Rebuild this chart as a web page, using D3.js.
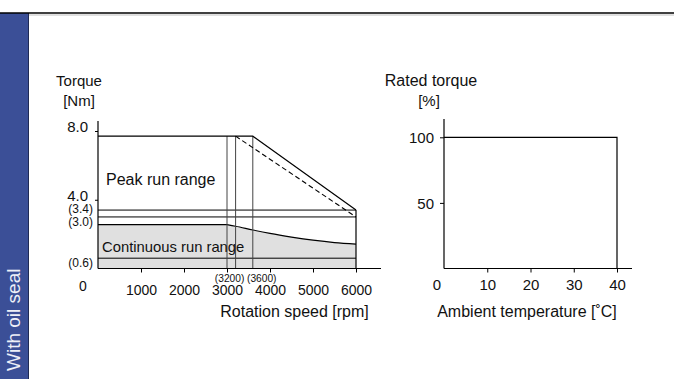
<!DOCTYPE html>
<html>
<head>
<meta charset="utf-8">
<script src="https://cdn.jsdelivr.net/npm/d3@7"></script>
<style>
  body { margin: 0; background: #fff; }
  svg { display: block; font-family: "Liberation Sans", Arial, sans-serif; }
</style>
</head>
<body>
<div id="chart"></div>
<script>
// speed / torque chart
const speedTicks = [1000, 2000, 3000, 4000, 5000, 6000];
const torqueTicks = [4.0, 8.0];
const peakTorque = 7.7;
const peakSolid = [[0, 7.7], [3600, 7.7], [6000, 3.4]];
const peakDashed = [[3200, 7.7], [6000, 3.0]];
const levelLines = [3.4, 3.0, 0.6];
const levelLabels = ['(3.4)', '(3.0)', '(0.6)'];
const speedMarks = [3000, 3200, 3600];
const speedMarkLabels = ['(3200)', '(3600)'];
const continuous = [[0, 2.55], [3000, 2.55], [3200, 2.46], [3600, 2.24], [4000, 2.04],
  [4500, 1.83], [5000, 1.65], [5500, 1.51], [6000, 1.42]];

// temperature chart
const tempTicks = [10, 20, 30, 40];
const ratedTicks = [50, 100];
const ratedLine = [[0, 100], [40, 100], [40, 0]];

const W = 674, H = 379;
const svg = d3.select('#chart').append('svg').attr('width', W).attr('height', H);

// side band + top rule
svg.append('rect').attr('x', 0).attr('y', 13).attr('width', 28).attr('height', H - 13).attr('fill', '#3b4f97');
svg.append('line').attr('x1', 28.5).attr('x2', 28.5).attr('y1', 13).attr('y2', H).attr('stroke', '#1f2a55').attr('stroke-width', 1);
svg.append('line').attr('x1', 0).attr('x2', W).attr('y1', 13).attr('y2', 13).attr('stroke', '#000').attr('stroke-width', 1.5);
svg.append('line').attr('x1', 29).attr('x2', W).attr('y1', 15).attr('y2', 15).attr('stroke', '#d4d4d4').attr('stroke-width', 1.5);
svg.append('text').attr('transform', 'translate(20,371) rotate(-90)')
  .attr('fill', '#eef0f7').style('font-size', '19px').text('With oil seal');

// ---- left chart
const x = d3.scaleLinear().domain([0, 6000]).range([98, 356]);
const y = d3.scaleLinear().domain([0, 8]).range([268.5, 131]);
const left = svg.append('g');

const area = d3.area().x(d => x(d[0])).y0(y(0)).y1(d => y(d[1])).curve(d3.curveMonotoneX);
const line = d3.line().x(d => x(d[0])).y(d => y(d[1]));

left.append('path').datum(continuous).attr('d', area).attr('fill', '#e0e0e0');
left.append('path').datum(continuous.slice(1)).attr('d', line.curve(d3.curveMonotoneX))
  .attr('fill', 'none').attr('stroke', '#000').attr('stroke-width', 1.2);
line.curve(d3.curveLinear);

left.selectAll('.lvl').data(levelLines).enter().append('line')
  .attr('x1', x(0)).attr('x2', x(6000))
  .attr('y1', d => y(d)).attr('y2', d => y(d))
  .attr('stroke', '#000').attr('stroke-width', 1);
// top of continuous range, flat part
left.append('line').attr('x1', x(0)).attr('x2', x(3000))
  .attr('y1', y(continuous[0][1])).attr('y2', y(continuous[0][1]))
  .attr('stroke', '#000').attr('stroke-width', 1.2);

left.selectAll('.vm').data(speedMarks).enter().append('line')
  .attr('x1', d => x(d)).attr('x2', d => x(d))
  .attr('y1', y(peakTorque)).attr('y2', y(0))
  .attr('stroke', '#444').attr('stroke-width', 1);
left.append('line').attr('x1', x(6000)).attr('x2', x(6000))
  .attr('y1', y(3.4)).attr('y2', y(0)).attr('stroke', '#000').attr('stroke-width', 1.2);

left.append('path').datum(peakSolid).attr('d', line)
  .attr('fill', 'none').attr('stroke', '#000').attr('stroke-width', 1.2);
left.append('path').datum(peakDashed).attr('d', line)
  .attr('fill', 'none').attr('stroke', '#000').attr('stroke-width', 1.1).attr('stroke-dasharray', '5,3');

// axes
left.append('line').attr('x1', x(0)).attr('x2', 381).attr('y1', y(0)).attr('y2', y(0)).attr('stroke', '#000').attr('stroke-width', 1.2);
left.append('line').attr('x1', x(0)).attr('x2', x(0)).attr('y1', 121).attr('y2', y(0)).attr('stroke', '#000').attr('stroke-width', 1.2);

const xAxis = d3.axisBottom(x).tickValues(speedTicks).tickSize(4).tickPadding(13).tickFormat(d3.format('d'));
left.append('g').attr('transform', 'translate(0,' + y(0) + ')').call(xAxis)
  .call(g => g.select('.domain').remove())
  .selectAll('text').style('font-size', '14px').attr('fill', '#111');

const yAxis = d3.axisLeft(y).tickValues(torqueTicks).tickSize(3).tickPadding(7).tickFormat(d3.format('.1f'));
left.append('g').attr('transform', 'translate(' + x(0) + ',0)').call(yAxis)
  .call(g => g.select('.domain').remove())
  .selectAll('text').style('font-size', '15px').attr('dy', '0.02em').attr('fill', '#111');

const lvlOffset = [-1.5, 4.5, 4.5];
left.selectAll('.lvlLab').data(levelLines).enter().append('text')
  .attr('x', 93).attr('y', (d, i) => y(d) + lvlOffset[i]).attr('dy', '0.35em')
  .attr('text-anchor', 'end').style('font-size', '12px').attr('fill', '#111')
  .text((d, i) => levelLabels[i]);

left.selectAll('.vmLab').data(speedMarkLabels).enter().append('text')
  .attr('x', (d, i) => x(speedMarks[i + 1]) + (i === 0 ? -6 : 9)).attr('y', 281.5)
  .attr('text-anchor', 'middle').style('font-size', '10.2px').attr('fill', '#111').text(d => d);

left.append('text').attr('x', 83).attr('y', 291).attr('text-anchor', 'middle')
  .style('font-size', '14px').attr('fill', '#111').text('0');
left.append('text').attr('x', 79).attr('y', 86).attr('text-anchor', 'middle')
  .style('font-size', '15px').attr('fill', '#111').text('Torque');
left.append('text').attr('x', 79).attr('y', 106).attr('text-anchor', 'middle')
  .style('font-size', '15px').attr('fill', '#111').text('[Nm]');
left.append('text').attr('x', 106).attr('y', 185)
  .style('font-size', '16px').attr('fill', '#111').text('Peak run range');
left.append('text').attr('x', 102).attr('y', 252)
  .style('font-size', '14.8px').attr('fill', '#111').text('Continuous run range');
left.append('text').attr('x', 294.5).attr('y', 317).attr('text-anchor', 'middle')
  .style('font-size', '16px').attr('fill', '#111').text('Rotation speed [rpm]');

// ---- right chart
const x2 = d3.scaleLinear().domain([0, 40]).range([444, 617]);
const y2 = d3.scaleLinear().domain([0, 100]).range([268.5, 137.3]);
const right = svg.append('g');

right.append('path').datum(ratedLine)
  .attr('d', d3.line().x(d => x2(d[0])).y(d => y2(d[1])))
  .attr('fill', 'none').attr('stroke', '#000').attr('stroke-width', 1.2);

right.append('line').attr('x1', x2(0)).attr('x2', 632).attr('y1', y2(0)).attr('y2', y2(0)).attr('stroke', '#000').attr('stroke-width', 1.2);
right.append('line').attr('x1', x2(0)).attr('x2', x2(0)).attr('y1', 119).attr('y2', y2(0)).attr('stroke', '#000').attr('stroke-width', 1.2);

right.append('g').attr('transform', 'translate(0,' + y2(0) + ')')
  .call(d3.axisBottom(x2).tickValues(tempTicks).tickSize(4).tickPadding(7))
  .call(g => g.select('.domain').remove())
  .selectAll('text').style('font-size', '15px').attr('fill', '#111');

right.append('g').attr('transform', 'translate(' + x2(0) + ',0)')
  .call(d3.axisLeft(y2).tickValues(ratedTicks).tickSize(4).tickPadding(6))
  .call(g => g.select('.domain').remove())
  .selectAll('text').style('font-size', '15px').attr('dy', '0.35em').attr('fill', '#111');

right.append('text').attr('x', 437).attr('y', 290).attr('text-anchor', 'middle')
  .style('font-size', '15px').attr('fill', '#111').text('0');
right.append('text').attr('x', 431).attr('y', 86).attr('text-anchor', 'middle')
  .style('font-size', '16px').attr('fill', '#111').text('Rated torque');
right.append('text').attr('x', 429).attr('y', 106).attr('text-anchor', 'middle')
  .style('font-size', '15px').attr('fill', '#111').text('[%]');
right.append('text').attr('x', 527).attr('y', 317).attr('text-anchor', 'middle')
  .style('font-size', '16px').attr('fill', '#111').text('Ambient temperature [˚C]');
</script>
</body>
</html>
